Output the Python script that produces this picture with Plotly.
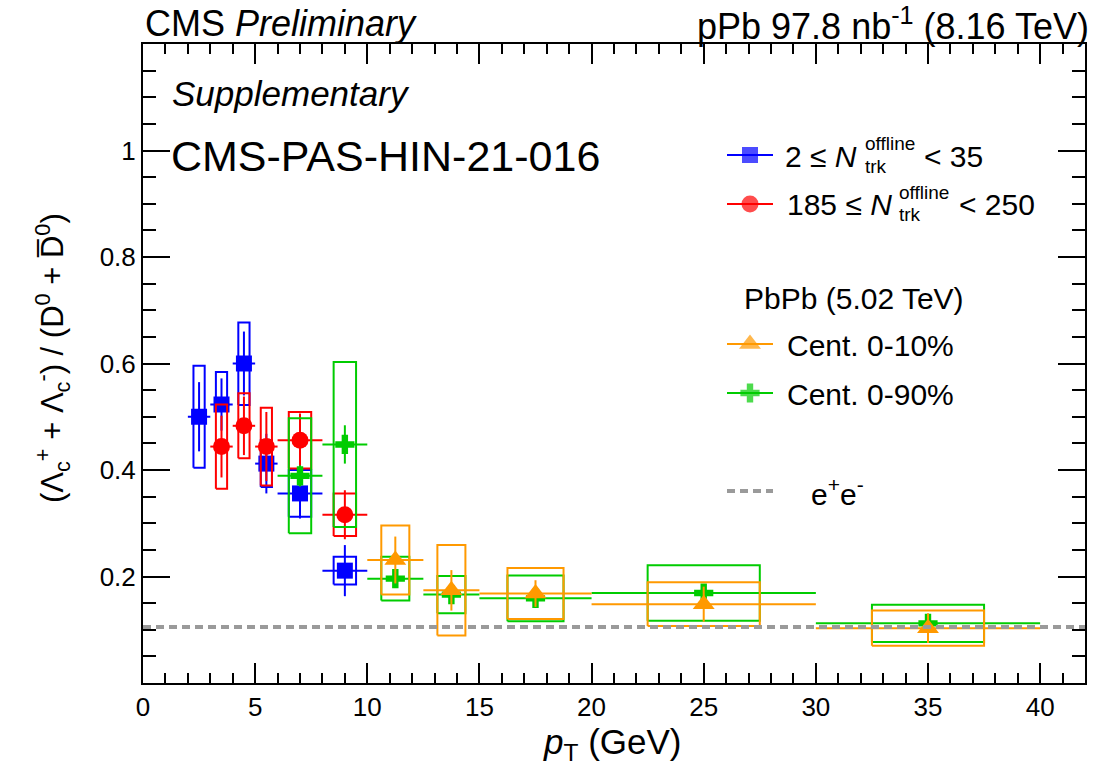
import plotly.graph_objects as go

# ---------------- data ----------------
# pPb, 2 <= N_trk^offline < 35
pt_low = [2.5, 3.5, 4.5, 5.5, 7.0, 9.0]
pt_low_halfbin = [0.5, 0.5, 0.5, 0.5, 1.0, 1.0]
low_ratio = [0.500, 0.523, 0.600, 0.412, 0.356, 0.211]
low_stat = [0.065, 0.049, 0.060, 0.056, 0.047, 0.048]
low_sys_lo = [0.096, 0.008, 0.078, 0.044, 0.044, 0.026]
low_sys_hi = [0.096, 0.061, 0.077, 0.044, 0.044, 0.026]

# pPb, 185 <= N_trk^offline < 250
pt_high = [3.5, 4.5, 5.5, 7.0, 9.0]
pt_high_halfbin = [0.5, 0.5, 0.5, 1.0, 1.0]
high_ratio = [0.444, 0.483, 0.444, 0.456, 0.316]
high_stat = [0.058, 0.055, 0.065, 0.050, 0.046]
high_sys = [0.079, 0.061, 0.073, 0.053, 0.040]

# PbPb 5.02 TeV, Cent. 0-90%
pt_c090 = [7.0, 9.0, 11.25, 13.75, 17.5, 25.0, 35.0]
pt_c090_halfbin = [1.0, 1.0, 1.25, 1.25, 2.5, 5.0, 5.0]
c090_ratio = [0.389, 0.448, 0.196, 0.166, 0.159, 0.169, 0.112]
c090_stat = [0.020, 0.036, 0.017, 0.012, 0.010, 0.010, 0.010]
c090_sys = [0.108, 0.155, 0.041, 0.035, 0.043, 0.052, 0.035]

# PbPb 5.02 TeV, Cent. 0-10%
pt_c010 = [11.25, 13.75, 17.5, 25.0, 35.0]
pt_c010_halfbin = [1.25, 1.25, 2.5, 5.0, 5.0]
c010_ratio = [0.231, 0.174, 0.168, 0.148, 0.103]
c010_stat = [0.044, 0.038, 0.025, 0.033, 0.028]
c010_sys = [0.065, 0.085, 0.048, 0.041, 0.033]

# e+e- reference value
ee_pt = [0.0, 42.0]
ee_ratio = [0.105, 0.105]

x_tick_vals = [0, 5, 10, 15, 20, 25, 30, 35, 40]
y_tick_vals = [0.2, 0.4, 0.6, 0.8, 1.0]
y_tick_text = ["0.2", "0.4", "0.6", "0.8", "1"]

# ---------------- style ----------------
FONT = "Liberation Sans, Arial, Helvetica, sans-serif"
BLUE, RED, ORANGE, GREEN, GRAY = "#0000ff", "#ff0000", "#ff9900", "#00cc00", "#9a9a9a"
W, H = 1104, 771
ML, MR, MT, MB = 143, 19, 44, 88
PW, PH = W - ML - MR, H - MT - MB


def px(xp):
    return (xp - ML) / PW


def py(yp):
    return (H - MB - yp) / PH


def box_path(xs, halfbins, ys, lo, hi):
    bx, by = [], []
    for x, hb, y, l, h in zip(xs, halfbins, ys, lo, hi):
        x0, x1 = x - hb / 2.0, x + hb / 2.0
        bx += [x0, x1, x1, x0, x0, None]
        by += [y - l, y - l, y + h, y + h, y - l, None]
    return bx, by


fig = go.Figure()


def add_series(xs, hb, ys, stat, slo, shi, color, symbol, size):
    bx, by = box_path(xs, hb, ys, slo, shi)
    fig.add_trace(go.Scatter(x=bx, y=by, mode="lines", line=dict(color=color, width=2),
                             hoverinfo="skip", showlegend=False))
    fig.add_trace(go.Scatter(
        x=xs, y=ys, mode="markers",
        marker=dict(symbol=symbol, size=size, color=color, line=dict(width=0)),
        error_y=dict(type="data", array=stat, thickness=2, width=0, color=color),
        error_x=dict(type="data", array=hb, thickness=2, width=0, color=color),
        showlegend=False))


add_series(pt_low, pt_low_halfbin, low_ratio, low_stat, low_sys_lo, low_sys_hi, BLUE, "square", 16)
add_series(pt_high, pt_high_halfbin, high_ratio, high_stat, high_sys, high_sys, RED, "circle", 17)
add_series(pt_c090, pt_c090_halfbin, c090_ratio, c090_stat, c090_sys, c090_sys, GREEN, "cross", 16)
add_series(pt_c010, pt_c010_halfbin, c010_ratio, c010_stat, c010_sys, c010_sys, ORANGE, "triangle-up", 19)

fig.add_trace(go.Scatter(x=ee_pt, y=ee_ratio, mode="lines",
                         line=dict(color=GRAY, width=4, dash="8px,5px"),
                         hoverinfo="skip", showlegend=False))

# ---------------- legend (drawn on an overlay in plot-area fractions) ----------------
leg_x = [px(727), px(750), px(773)]
legend_rows = [
    (155, BLUE, "square", 16),
    (204, RED, "circle", 17),
    (344, ORANGE, "triangle-up", 19),
    (393, GREEN, "cross", 16),
]
for yy, col, sym, sz in legend_rows:
    fig.add_trace(go.Scatter(x=leg_x, y=[py(yy)] * 3, xaxis="x2", yaxis="y2",
                             mode="lines+markers", line=dict(color=col, width=2),
                             marker=dict(symbol=sym, size=[0, sz, 0], color=col, line=dict(width=0)),
                             cliponaxis=False, hoverinfo="skip", showlegend=False))
fig.add_trace(go.Scatter(x=[px(727), px(773)], y=[py(491)] * 2, xaxis="x2", yaxis="y2",
                         mode="lines", line=dict(color=GRAY, width=4, dash="8px,5px"),
                         cliponaxis=False, hoverinfo="skip", showlegend=False))

ann = []


def text(xp, yp, s, size, anchor="left", italic=False, angle=0, yanchor="middle"):
    ann.append(dict(x=px(xp), y=py(yp), xref="paper", yref="paper", text=s, showarrow=False,
                    xanchor=anchor, yanchor=yanchor, textangle=angle,
                    font=dict(family=FONT, size=size, color="black",
                              style="italic" if italic else "normal")))


# legend texts
text(783, 156, "2 ≤ <i>N</i>", 30)
text(863, 143, "offline", 19)
text(863, 166, "trk", 19)
text(922, 156, "&lt; 35", 30)
text(785, 205, "185 ≤ <i>N</i>", 30)
text(897, 192, "offline", 19)
text(897, 215, "trk", 19)
text(957, 205, "&lt; 250", 30)
text(742, 298, "PbPb (5.02 TeV)", 30)
text(785, 345, "Cent. 0-10%", 30)
text(785, 394, "Cent. 0-90%", 30)
text(809, 492, "e<sup>+</sup>e<sup>-</sup>", 30)

# header texts
text(143, 24, "CMS <i>Preliminary</i>", 36)
text(1091, 24, "pPb 97.8 nb<sup>-1</sup> (8.16 TeV)", 36, anchor="right")
text(170, 93, "Supplementary", 35, italic=True)
text(169, 156, "CMS-PAS-HIN-21-016", 43)

# axis titles
text(612, 744, "<i>p</i><sub>T</sub> (GeV)", 35, anchor="center")
text(52, 358, "(Λ<sub>c</sub><sup>+</sup> + Λ<sub>c</sub><sup>-</sup>) / (D<sup>0</sup> + D\u0305<sup>0</sup>)",
     31, anchor="center", angle=-90)

axis_common = dict(showline=True, linecolor="black", linewidth=2, mirror="allticks",
                   ticks="inside", tickcolor="black", tickwidth=2, showgrid=False, zeroline=False,
                   tickfont=dict(family=FONT, size=26, color="black"))

fig.update_layout(
    width=W, height=H,
    margin=dict(l=ML, r=MR, t=MT, b=MB),
    paper_bgcolor="white", plot_bgcolor="white",
    showlegend=False,
    xaxis=dict(range=[0, 42], tickmode="array", tickvals=x_tick_vals, ticklen=20,
               minor=dict(tick0=0, dtick=1, ticklen=10, tickwidth=2, tickcolor="black", ticks="inside"),
               **axis_common),
    yaxis=dict(range=[0, 1.2], tickmode="array", tickvals=y_tick_vals, ticktext=y_tick_text, ticklen=27,
               minor=dict(tick0=0, dtick=0.05, ticklen=13, tickwidth=2, tickcolor="black", ticks="inside"),
               **axis_common),
    xaxis2=dict(overlaying="x", range=[0, 1], visible=False, fixedrange=True),
    yaxis2=dict(overlaying="y", range=[0, 1], visible=False, fixedrange=True),
    annotations=ann,
)

fig.write_html("out.html")
